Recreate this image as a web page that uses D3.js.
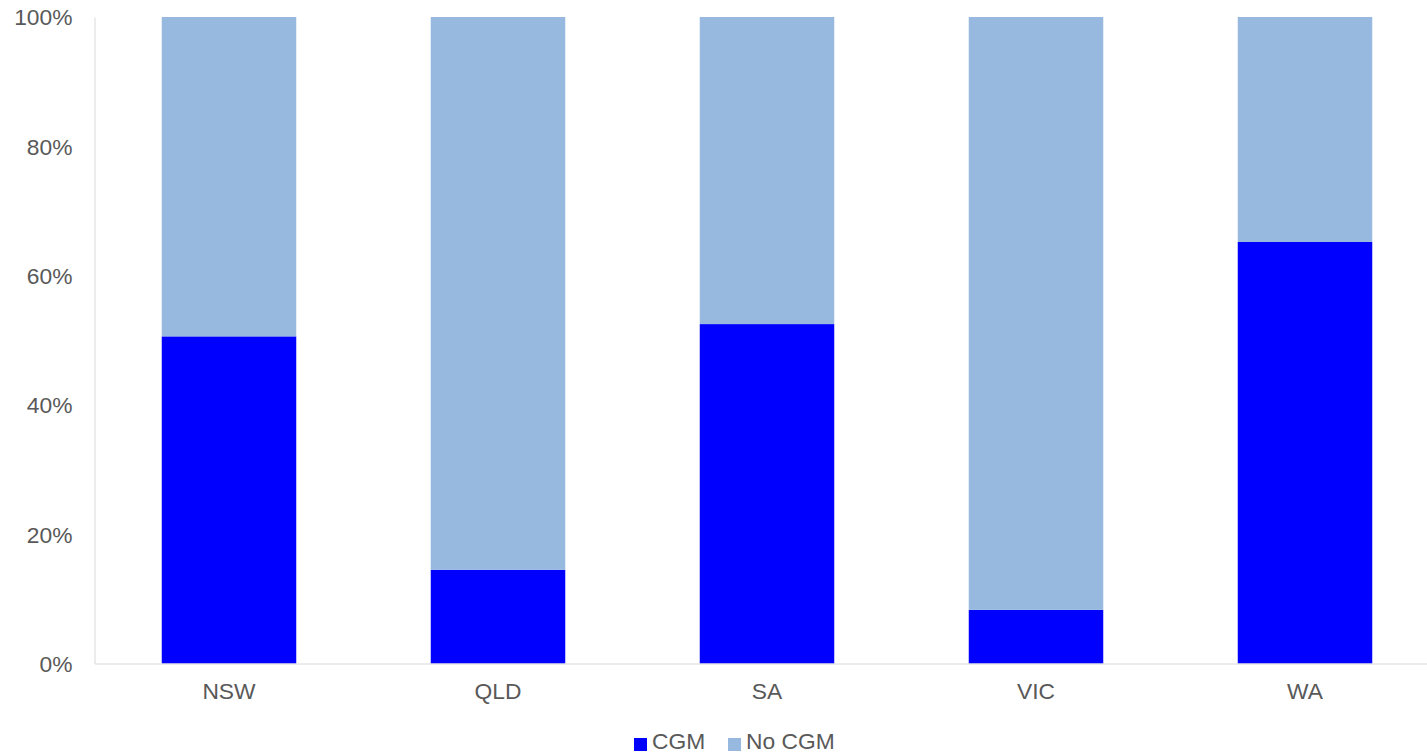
<!DOCTYPE html>
<html>
<head>
<meta charset="utf-8">
<script src="https://cdn.jsdelivr.net/npm/d3@7"></script>
<style>
  body { margin: 0; background: #fff; }
  svg { display: block; font-family: "Liberation Sans", Arial, sans-serif; }
</style>
</head>
<body>
<div id="chart"></div>
<script>
const states = ["NSW", "QLD", "SA", "VIC", "WA"];
const cgm = [50.6, 14.5, 52.5, 8.3, 65.2];
const noCgm = [49.4, 85.5, 47.5, 91.7, 34.8];
const seriesNames = ["CGM", "No CGM"];
const seriesColors = ["#0000ff", "#97b9df"];
const yTicks = [0, 20, 40, 60, 80, 100];

const width = 1427, height = 755;
const plotTop = 17, plotBottom = 663.5, plotLeft = 94.5;
const fontSize = "22.8px";

const svg = d3.select("#chart").append("svg")
  .attr("width", width)
  .attr("height", height);

const rows = states.map((s, i) => ({ state: s, CGM: cgm[i], "No CGM": noCgm[i] }));
const stacked = d3.stack().keys(seriesNames)(rows);

const x = d3.scaleBand()
  .domain(states)
  .range([plotLeft, plotLeft + 5 * 269])
  .paddingInner(0.5)
  .paddingOuter(0.25);

const y = d3.scaleLinear()
  .domain([0, 100])
  .range([plotBottom, plotTop]);

// bars
svg.append("g")
  .selectAll("g")
  .data(stacked)
  .join("g")
  .attr("fill", (d, i) => seriesColors[i])
  .selectAll("rect")
  .data(d => d)
  .join("rect")
  .attr("x", d => x(d.data.state))
  .attr("width", x.bandwidth())
  .attr("y", d => y(d[1]))
  .attr("height", d => y(d[0]) - y(d[1]));

// y axis
const yAxis = svg.append("g")
  .attr("transform", "translate(" + plotLeft + ",0)")
  .call(d3.axisLeft(y).tickValues(yTicks).tickSize(0).tickPadding(22).tickFormat(d => d + "%"));
yAxis.select(".domain").attr("stroke", "#d9d9d9");
yAxis.selectAll("text")
  .attr("fill", "#595959")
  .style("font-size", fontSize)
  .attr("dy", "0.35em");

// x axis
const xAxis = svg.append("g")
  .attr("transform", "translate(0," + plotBottom + ")")
  .call(d3.axisBottom(x).tickSize(0).tickPadding(19));
xAxis.select(".domain").attr("stroke", "#d9d9d9");
xAxis.selectAll("text")
  .attr("fill", "#595959")
  .style("font-size", fontSize);

// legend
const legend = svg.append("g").attr("transform", "translate(634,744.5)");
const legendX = [0, 94];
seriesNames.forEach((name, i) => {
  const g = legend.append("g").attr("transform", "translate(" + legendX[i] + ",0)");
  g.append("rect")
    .attr("x", 0).attr("y", -6.5)
    .attr("width", 13).attr("height", 13)
    .attr("fill", seriesColors[i]);
  g.append("text")
    .attr("x", 18).attr("y", 4)
    .attr("fill", "#595959")
    .style("font-size", fontSize)
    .text(name);
});
</script>
</body>
</html>
